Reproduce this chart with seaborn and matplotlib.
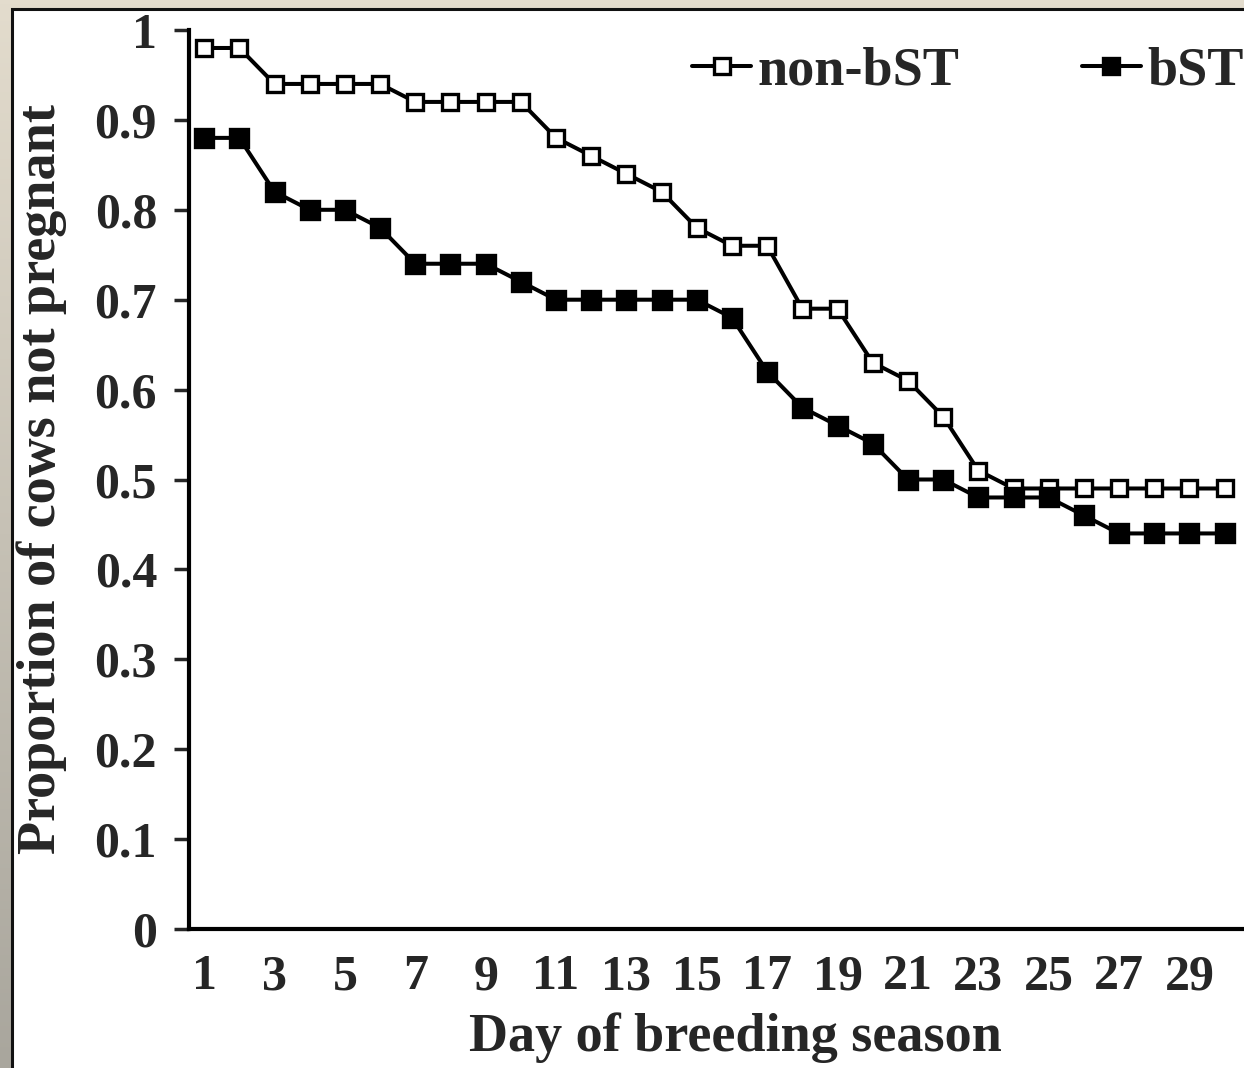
import numpy as np
import pandas as pd
import matplotlib
matplotlib.use('Agg')
import matplotlib.pyplot as plt
import seaborn as sns
from matplotlib.colors import LinearSegmentedColormap
from matplotlib.lines import Line2D

# Data
days = list(range(1, 31))
non_bst = [0.98, 0.98, 0.94, 0.94, 0.94, 0.94, 0.92, 0.92, 0.92, 0.92,
           0.88, 0.86, 0.84, 0.82, 0.78, 0.76, 0.76, 0.69, 0.69, 0.63,
           0.61, 0.57, 0.51, 0.49, 0.49, 0.49, 0.49, 0.49, 0.49, 0.49]
bst = [0.88, 0.88, 0.82, 0.80, 0.80, 0.78, 0.74, 0.74, 0.74, 0.72,
       0.70, 0.70, 0.70, 0.70, 0.70, 0.68, 0.62, 0.58, 0.56, 0.54,
       0.50, 0.50, 0.48, 0.48, 0.48, 0.46, 0.44, 0.44, 0.44, 0.44]
x_ticks = list(range(1, 30, 2))
y_ticks = [0, 0.1, 0.2, 0.3, 0.4, 0.5, 0.6, 0.7, 0.8, 0.9, 1.0]
y_tick_labels = ['0', '0.1', '0.2', '0.3', '0.4', '0.5', '0.6', '0.7', '0.8', '0.9', '1']

df = pd.DataFrame({'day': days * 2,
                   'prop': non_bst + bst,
                   'group': ['non-bST'] * 30 + ['bST'] * 30})

sns.set_style('white')
plt.rcParams['font.family'] = ['Liberation Serif', 'DejaVu Serif']
plt.rcParams['font.weight'] = 'bold'
fs = 36
lfs = 39

W, H = 1244, 1068
fig = plt.figure(figsize=(W / 100, H / 100), dpi=100)
fig.patch.set_facecolor('#e2dccd')

# frame: beige/gray gradient strip on the left, white panel with dark border
bg = fig.add_axes([0, 0, 1, 1], zorder=-2)
grad = np.linspace(0, 1, 256).reshape(-1, 1)
cm = LinearSegmentedColormap.from_list('frame', ['#e3dccd', '#a9a69d'])
bg.imshow(grad, aspect='auto', cmap=cm, extent=[0, 1, 0, 1])
bg.add_patch(plt.Rectangle((11.5 / W, -0.01), 1.0, 1 - 8.5 / H + 0.01,
                           facecolor='white', edgecolor='#111111', linewidth=2.2))
bg.set_xlim(0, 1)
bg.set_ylim(0, 1)
bg.axis('off')

ax = fig.add_axes([189 / W, 139 / H, (W - 189) / W, 899 / H])
ax.set_facecolor('none')

sns.lineplot(data=df, x='day', y='prop', hue='group', style='group',
             palette={'non-bST': 'black', 'bST': 'black'},
             markers={'non-bST': 's', 'bST': 's'}, dashes=False,
             linewidth=2.9, ax=ax, legend=False)

for line, face in zip(ax.lines, ['white', 'black']):
    line.set_markersize(11.5 if face == 'white' else 12.5)
    line.set_markerfacecolor(face)
    line.set_markeredgecolor('black')
    line.set_markeredgewidth(2.4)
    line.set_clip_on(False)

ax.set_xlim(0.57, 30.55)
ax.set_ylim(0, 1)
ax.set_xticks(x_ticks)
ax.set_xticklabels([str(t) for t in x_ticks], fontsize=fs, fontweight='bold')
ax.set_yticks(y_ticks)
ax.set_yticklabels(y_tick_labels, fontsize=fs, fontweight='bold')
ax.tick_params(axis='y', length=11, width=2.5, direction='out', pad=12, left=True)
ax.tick_params(axis='x', length=0, pad=18)

for s in ['top', 'right']:
    ax.spines[s].set_visible(False)
for s in ['left', 'bottom']:
    ax.spines[s].set_color('black')
    ax.spines[s].set_linewidth(3)

ax.set_xlabel('Day of breeding season', fontsize=lfs, fontweight='bold', labelpad=20)
ax.xaxis.set_label_coords(0.5175, -0.093, transform=ax.transAxes)
ax.xaxis.label.set_verticalalignment('top')
ax.set_ylabel('Proportion of cows not pregnant', fontsize=lfs, fontweight='bold', labelpad=20)

handles = [Line2D([], [], color='black', lw=2.9, marker='s', markersize=11,
                  markerfacecolor='white', markeredgewidth=2.4),
           Line2D([], [], color='black', lw=2.9, marker='s', markersize=11,
                  markerfacecolor='black', markeredgewidth=2.4)]
fig.legend(handles, ['non-bST', 'bST'], ncol=2, frameon=False,
           loc='center right', bbox_to_anchor=(1.0, 1 - 72 / H),
           handlelength=1.1, handletextpad=0.12,
           columnspacing=2.25, borderpad=0, borderaxespad=0,
           prop={'weight': 'bold', 'size': lfs})

fig.savefig('out.png', dpi=100)
